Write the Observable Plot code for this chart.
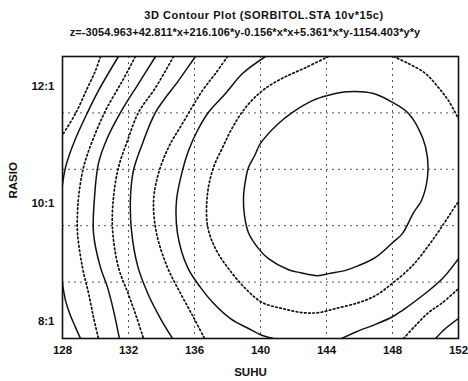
<!DOCTYPE html>
<html><head><meta charset="utf-8">
<script src="https://cdn.jsdelivr.net/npm/d3@7"></script>
<script src="https://cdn.jsdelivr.net/npm/@observablehq/plot@0.6"></script>
<style>
body{margin:0;background:#fff;width:468px;height:381px;overflow:hidden;font-family:"Liberation Sans",Arial,sans-serif;}
#head{position:relative;height:44px;}
#head div{position:absolute;font-weight:bold;font-size:11px;line-height:13px;white-space:nowrap;color:#111;transform:translateX(-50%);}
#t1{left:264px;top:9px;font-size:11.5px;letter-spacing:0.55px;}
#t2{left:245px;top:26px;letter-spacing:0.1px;}
</style></head><body>
<div id="head"><div id="t1">3D Contour Plot (SORBITOL.STA 10v*15c)</div><div id="t2">z=-3054.963+42.811*x+216.106*y-0.156*x*x+5.361*x*y-1154.403*y*y</div></div>
<div id="chart"></div>
<script>
// Axis ticks and labels
const xTicks = [128, 132, 136, 140, 144, 148, 152];
const yTicks = [8, 10, 12];
const yTickLabels = ["8:1", "10:1", "12:1"];
const xGrid = [132, 136, 140, 144, 148];
const yGrid = [8.66, 9.62, 10.58, 11.54];

// Contour lines (x = SUHU, y = RASIO)
// dotted levels
const c1 = [[130.30,12.50],[130.00,12.26],[129.52,11.97],[128.79,11.53],[128.06,11.19],[128.00,11.16]];
const c3 = [[132.42,12.50],[131.64,12.09],[130.61,11.58],[129.82,11.07],[129.27,10.61],[128.97,10.10],[128.91,9.84],[128.91,9.49],[129.21,8.91],[129.58,8.47],[129.88,8.06],[130.18,7.70]];
const c5 = [[134.73,12.50],[133.64,11.97],[132.61,11.55],[131.94,11.07],[131.39,10.61],[131.09,10.10],[131.03,9.57],[131.39,8.91],[132.00,8.45],[132.48,8.07],[132.91,7.70]];
const c7a = [[138.00,12.50],[137.27,12.21],[136.48,11.92],[135.27,11.36],[134.42,10.95],[133.82,10.51],[133.52,10.05],[133.70,9.49],[134.36,8.91],[135.15,8.47],[135.94,8.06],[136.61,7.70]];
const c7b = [[148.67,7.70],[149.39,7.92],[150.18,8.14],[151.03,8.31],[152.00,8.55]];
const c9a = [[144.12,12.50],[142.73,12.31],[141.33,12.13],[140.12,11.92],[139.09,11.63],[138.30,11.29],[137.70,10.95],[137.15,10.61],[136.79,10.17],[136.79,9.62],[137.27,9.23],[138.06,8.89],[139.09,8.55],[140.12,8.31],[141.33,8.21],[142.55,8.14],[143.52,8.14],[144.55,8.21],[145.94,8.31],[146.97,8.43],[148.00,8.64],[149.21,8.94],[150.18,9.28],[151.03,9.62],[151.82,9.96],[152.00,10.03]];
const c9b = [[148.06,12.50],[148.97,12.38],[150.00,12.21],[150.79,11.97],[151.39,11.75],[152.00,11.44]];
// solid levels
const c2a = [[131.39,12.50],[130.18,11.92],[129.52,11.55],[128.67,11.02],[128.18,10.61],[128.00,10.32]];
const c2b = [[128.00,8.64],[128.18,8.35],[128.48,8.09],[128.79,7.89],[129.09,7.70]];
const c4 = [[133.64,12.50],[132.61,12.04],[131.52,11.55],[130.73,11.12],[130.18,10.68],[129.94,10.10],[129.88,9.49],[130.30,8.91],[130.73,8.57],[131.09,8.18],[131.45,7.70]];
const c6a = [[136.06,12.50],[135.03,12.09],[133.64,11.55],[132.85,11.02],[132.30,10.56],[132.12,10.10],[132.18,9.54],[132.55,8.94],[133.15,8.48],[133.94,8.04],[134.67,7.70]];
const c6b = [[150.61,7.70],[151.21,7.87],[152.00,8.04]];
const c8a = [[140.30,12.50],[138.91,12.21],[137.88,11.87],[136.85,11.55],[136.18,11.24],[135.64,10.90],[135.27,10.56],[134.91,10.05],[134.97,9.49],[135.58,8.91],[136.36,8.57],[137.15,8.30],[138.18,8.04],[139.27,7.87],[140.12,7.75],[140.79,7.70]];
const c8b = [[144.91,7.70],[145.94,7.83],[146.97,7.94],[148.00,8.07],[148.61,8.18],[150.00,8.47],[151.03,8.72],[152.00,9.06]];
const c10 = [[145.27,11.90],[146.85,11.87],[148.00,11.72],[148.97,11.53],[149.82,11.12],[150.12,10.78],[150.12,10.44],[149.76,10.05],[149.27,9.84],[148.61,9.49],[148.00,9.33],[146.97,9.08],[145.94,8.94],[145.15,8.86],[144.24,8.81],[143.45,8.77],[142.42,8.82],[141.70,8.87],[140.48,9.06],[139.88,9.23],[139.27,9.50],[139.03,9.79],[138.97,10.10],[139.09,10.39],[139.27,10.61],[139.64,10.81],[140.00,11.02],[141.09,11.36],[141.94,11.55],[143.15,11.75],[144.12,11.84]];

const dottedLines = {c1, c3, c5, c7a, c7b, c9a, c9b};
const solidLines = {c2a, c2b, c4, c6a, c6b, c8a, c8b};
const toRows = (obj) => Object.entries(obj).flatMap(([id, pts]) => pts.map(([x, y]) => ({id, x, y})));
const dottedRows = toRows(dottedLines);
const solidRows = toRows(solidLines);
const loopRows = c10.map(([x, y]) => ({id: "c10", x, y}));

const ink = "#111";
const chart = Plot.plot({
  width: 468,
  height: 337,
  marginTop: 12,
  marginLeft: 62,
  marginRight: 10,
  marginBottom: 43,
  clip: true,
  style: {fontFamily: "'Liberation Sans', Arial, sans-serif", fontWeight: "bold", fontSize: "11.5px", color: ink, background: "#fff"},
  x: {domain: [128, 152]},
  y: {domain: [7.7, 12.5]},
  marks: [
    Plot.gridX(xGrid, {stroke: "#444", strokeOpacity: 0.9, strokeDasharray: "2 4", strokeWidth: 1}),
    Plot.gridY(yGrid, {stroke: "#444", strokeOpacity: 0.9, strokeDasharray: "2 4", strokeWidth: 1}),
    Plot.line(dottedRows, {x: "x", y: "y", z: "id", curve: "catmull-rom", stroke: ink, strokeWidth: 1.7, strokeDasharray: "1.6 2.6"}),
    Plot.line(solidRows, {x: "x", y: "y", z: "id", curve: "catmull-rom", stroke: ink, strokeWidth: 1.5}),
    Plot.line(loopRows, {x: "x", y: "y", z: "id", curve: "catmull-rom-closed", stroke: ink, strokeWidth: 1.5}),
    Plot.frame({stroke: ink, strokeWidth: 1.6}),
    Plot.axisX({ticks: xTicks, tickSize: 0, tickPadding: 7, tickFormat: (d) => String(d), label: null, fontSize: 11.5, fontWeight: "bold", fill: ink}),
    Plot.axisY({ticks: yTicks, tickSize: 0, tickPadding: 8, tickFormat: (d) => yTickLabels[yTicks.indexOf(d)], label: null, fontSize: 11.5, fontWeight: "bold", fill: ink}),
    Plot.text(["SUHU"], {text: (d) => d, frameAnchor: "bottom", dy: 37, dx: -10, fontSize: 11.5, fontWeight: "bold", fill: ink, clip: false}),
    Plot.text(["RASIO"], {text: (d) => d, frameAnchor: "left", rotate: -90, dx: -49, dy: 1, fontSize: 11.5, fontWeight: "bold", fill: ink, clip: false})
  ]
});
document.getElementById("chart").appendChild(chart);
</script>
</body></html>
